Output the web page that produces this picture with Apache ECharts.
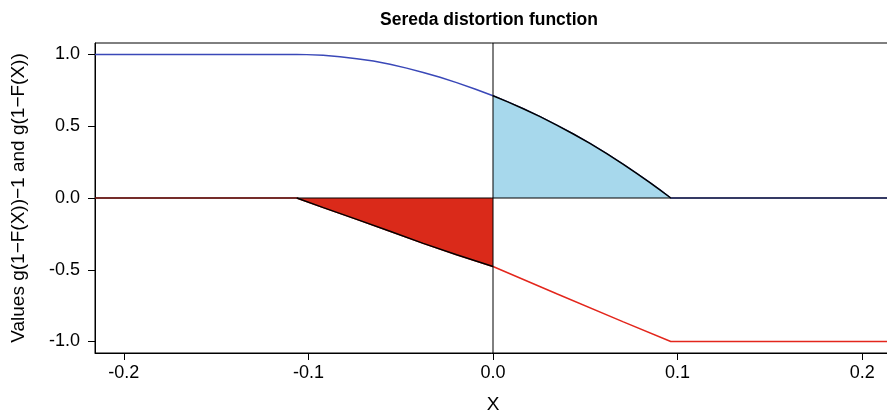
<!DOCTYPE html>
<html>
<head>
<meta charset="utf-8">
<script src="https://cdn.jsdelivr.net/npm/echarts@6/dist/echarts.min.js"></script>
<style>html,body{margin:0;padding:0;background:#fff;}#chart{width:887px;height:412px;}</style>
</head>
<body>
<div id="chart"></div>
<script>
// Data
var xRange = [-0.2156, 0.2156];
var yRange = [-1.08, 1.08];
var xTicks = [-0.2, -0.1, 0.0, 0.1, 0.2];
var yTicks = [-1.0, -0.5, 0.0, 0.5, 1.0];

var blueX = [-0.2156, -0.1063, -0.1009, -0.092, -0.0829, -0.0738, -0.0648, -0.0558, -0.0468, -0.0378, -0.0287, -0.0197, -0.0098, 0, 0.0083, 0.0164, 0.0255, 0.0345, 0.0435, 0.0525, 0.0616, 0.0706, 0.0778, 0.085, 0.0904, 0.0963, 0.2156];
var blueY = [1, 1, 0.999, 0.994, 0.985, 0.971, 0.954, 0.932, 0.905, 0.875, 0.841, 0.804, 0.760, 0.712, 0.668, 0.622, 0.567, 0.508, 0.446, 0.380, 0.309, 0.235, 0.171, 0.107, 0.056, 0, 0];

var redX = [-0.2156, -0.1063, -0.0919, -0.0738, -0.0558, -0.0378, -0.0197, 0, 0.0345, 0.0706, 0.0963, 0.2156];
var redY = [0, 0, -0.067, -0.149, -0.232, -0.316, -0.395, -0.477, -0.667, -0.863, -1, -1];

function zip(xs, ys) { return xs.map(function (x, i) { return [x, ys[i]]; }); }
var bluePts = zip(blueX, blueY);
var redPts = zip(redX, redY);
var blueFill = bluePts.filter(function (p) { return p[0] >= 0 && p[0] <= 0.0963; });
var redFill = redPts.filter(function (p) { return p[0] <= 0 && p[0] >= -0.1063; });

var FONT = 'Liberation Sans, Arial, sans-serif';
var chart = echarts.init(document.getElementById('chart'), null, {renderer: 'canvas'});
chart.setOption({
  animation: false,
  backgroundColor: '#fff',
  title: {
    text: 'Sereda distortion function',
    left: 484, top: 6, textAlign: 'center',
    textStyle: {fontFamily: FONT, fontSize: 17.5, fontWeight: 'bold', color: '#000'}
  },
  grid: {left: 95, right: -4, top: 43, bottom: 59, show: true, borderColor: '#000', borderWidth: 1,
    backgroundColor: 'transparent', containLabel: false, outerBoundsMode: 'none'},
  xAxis: {
    type: 'value', min: xRange[0], max: xRange[1],
    name: 'X', nameLocation: 'middle', nameGap: 42,
    nameTextStyle: {fontFamily: FONT, fontSize: 19, color: '#000'},
    axisLine: {show: true, onZero: false, lineStyle: {color: '#000', width: 1}},
    axisTick: {show: true, length: 7, customValues: xTicks, lineStyle: {color: '#000'}},
    axisLabel: {customValues: xTicks, margin: 11, fontFamily: FONT, fontSize: 18, color: '#000',
      formatter: function (v) { return v.toFixed(1); }},
    splitLine: {show: false}
  },
  yAxis: {
    type: 'value', min: yRange[0], max: yRange[1],
    name: 'Values g(1\u2212F(X))\u22121 and g(1\u2212F(X))', nameLocation: 'middle', nameGap: 67,
    nameTextStyle: {fontFamily: FONT, fontSize: 19, color: '#000'},
    axisLine: {show: true, onZero: false, lineStyle: {color: '#000', width: 1}},
    axisTick: {show: true, length: 7, customValues: yTicks, lineStyle: {color: '#000'}},
    axisLabel: {customValues: yTicks, margin: 15, fontFamily: FONT, fontSize: 18, color: '#000',
      formatter: function (v) { return v.toFixed(1); }},
    splitLine: {show: false}
  },
  series: [
    {type: 'line', data: bluePts, symbol: 'none', z: 2, lineStyle: {color: '#3A48B8', width: 1.5}},
    {type: 'line', data: redPts, symbol: 'none', z: 2, lineStyle: {color: '#E3261C', width: 1.5}},
    {type: 'line', data: blueFill, symbol: 'none', z: 3, lineStyle: {color: '#000', width: 1.5},
      areaStyle: {color: '#A7D8EC', opacity: 1}},
    {type: 'line', data: redFill, symbol: 'none', z: 3, lineStyle: {color: '#000', width: 1.5},
      areaStyle: {color: '#DA2A1A', opacity: 1}},
    {type: 'line', data: [[xRange[0], 0], [xRange[1], 0]], symbol: 'none', z: 5, lineStyle: {color: '#000', width: 1}},
    {type: 'line', data: [[0, yRange[0]], [0, yRange[1]]], symbol: 'none', z: 5, lineStyle: {color: '#000', width: 1}}
  ]
});
</script>
</body>
</html>
